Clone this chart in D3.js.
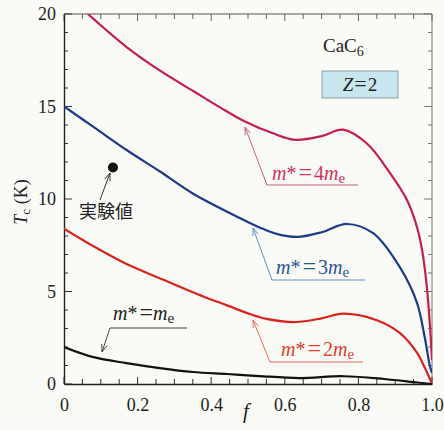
<!DOCTYPE html>
<html><head><meta charset="utf-8">
<script src="https://cdn.jsdelivr.net/npm/d3@7"></script>
<style>
body{margin:0;background:#fafaf7;}
svg{display:block;}
</style></head>
<body><svg id="c" width="444" height="430"></svg>
<script>
// ---- data ----
const xTicks = [0, 0.2, 0.4, 0.6, 0.8, 1.0];
const xTickLabels = ["0", "0.2", "0.4", "0.6", "0.8", "1.0"];
const yTicks = [0, 5, 10, 15, 20];
const yTickLabels = ["0", "5", "10", "15", "20"];

const fM4 = [0.065, 0.171, 0.26, 0.35, 0.424, 0.49, 0.568, 0.628, 0.70, 0.758, 0.823, 0.886, 0.932, 0.959, 0.973, 0.986, 0.995, 1.0];
const tM4 = [20.0, 18.2, 16.95, 15.85, 14.95, 14.2, 13.55, 13.2, 13.4, 13.75, 13.0, 11.4, 9.95, 8.5, 7.25, 5.25, 3.0, 1.3];

const fM3 = [0, 0.08, 0.17, 0.26, 0.35, 0.478, 0.533, 0.58, 0.633, 0.70, 0.769, 0.84, 0.913, 0.959, 0.98, 0.995, 1.0];
const tM3 = [15.0, 13.9, 12.65, 11.5, 10.3, 8.97, 8.45, 8.1, 7.95, 8.2, 8.65, 8.15, 6.3, 4.4, 2.55, 0.9, 0.6];

const fM2 = [0, 0.08, 0.163, 0.272, 0.38, 0.443, 0.505, 0.55, 0.63, 0.70, 0.758, 0.85, 0.913, 0.959, 0.98, 1.0];
const tM2 = [8.4, 7.45, 6.56, 5.62, 4.72, 4.25, 3.78, 3.52, 3.35, 3.55, 3.8, 3.45, 2.75, 1.7, 0.9, 0];

const fM1 = [0, 0.08, 0.17, 0.26, 0.35, 0.443, 0.53, 0.64, 0.76, 0.87, 0.96, 1.0];
const tM1 = [2.0, 1.45, 1.13, 0.86, 0.65, 0.54, 0.43, 0.32, 0.42, 0.27, 0.08, 0];

const expF = [0.133];
const expT = [11.7];

// ---- layout ----
const SERIF = "'Liberation Serif', Tinos, serif";
const svg = d3.select("#c");
const L = 64, R = 432, T = 14, B = 384;
const x = d3.scaleLinear().domain([0, 1]).range([L, R]);
const y = d3.scaleLinear().domain([0, 20]).range([B, T]);

svg.append("rect").attr("width", 444).attr("height", 430).attr("fill", "#fafaf7");

svg.append("line").attr("x1", L).attr("x2", R).attr("y1", T).attr("y2", T).attr("stroke", "#555").attr("stroke-width", 1);
svg.append("line").attr("x1", R).attr("x2", R).attr("y1", T).attr("y2", B).attr("stroke", "#777").attr("stroke-width", 1);

const xMinor = d3.range(0, 1.0001, 0.05);
const yMinor = d3.range(0, 20.0001, 1);
const tickG = svg.append("g").attr("stroke", "#333").attr("stroke-width", 1);
xMinor.forEach(v => {
  const major = Math.abs(v * 5 - Math.round(v * 5)) < 1e-6;
  const len = major ? 7 : 5;
  tickG.append("line").attr("x1", x(v)).attr("x2", x(v)).attr("y1", B).attr("y2", B - len);
  tickG.append("line").attr("x1", x(v)).attr("x2", x(v)).attr("y1", T).attr("y2", T + len).attr("stroke", "#666");
});
yMinor.forEach(v => {
  const major = v % 5 === 0;
  const len = major ? 8 : 4;
  tickG.append("line").attr("x1", L).attr("x2", L + len).attr("y1", y(v)).attr("y2", y(v));
  tickG.append("line").attr("x1", R).attr("x2", R - len).attr("y1", y(v)).attr("y2", y(v)).attr("stroke", "#777");
});

const xAxis = d3.axisBottom(x).tickValues(xTicks).tickFormat((d, i) => xTickLabels[i]).tickSize(0).tickPadding(14);
const gx = svg.append("g").attr("transform", `translate(0,${B})`).call(xAxis);
gx.attr("font-family", SERIF).attr("font-size", 18);
gx.select(".domain").attr("stroke", "#222").attr("stroke-width", 1.4);
gx.selectAll("text").attr("fill", "#222");

const yAxis = d3.axisLeft(y).tickValues(yTicks).tickFormat((d, i) => yTickLabels[i]).tickSize(0).tickPadding(8);
const gy = svg.append("g").attr("transform", `translate(${L},0)`).call(yAxis);
gy.attr("font-family", SERIF).attr("font-size", 18);
gy.select(".domain").attr("stroke", "#222").attr("stroke-width", 1.4);
gy.selectAll("text").attr("fill", "#222");

const yt = svg.append("text").attr("transform", "translate(27,202) rotate(-90)").attr("text-anchor", "middle").attr("font-size", 18).attr("fill", "#222").attr("font-family", SERIF);
yt.append("tspan").attr("font-style", "italic").text("T");
yt.append("tspan").attr("font-size", 13).attr("dy", 3).text("c");
yt.append("tspan").attr("dy", -3).text(" (K)");
svg.append("text").attr("x", 246).attr("y", 418).attr("text-anchor", "middle").attr("font-size", 21).attr("font-style", "italic").attr("fill", "#222").attr("font-family", SERIF).text("f");

svg.append("clipPath").attr("id", "pc").append("rect").attr("x", L).attr("y", T).attr("width", R - L).attr("height", B - T + 2);
const line = d3.line().x(d => x(d[0])).y(d => y(d[1])).curve(d3.curveCatmullRom.alpha(0.5));
const series = [
  {f: fM4, t: tM4, color: "#c41e4a"},
  {f: fM3, t: tM3, color: "#1e3a8a"},
  {f: fM2, t: tM2, color: "#d8231f"},
  {f: fM1, t: tM1, color: "#111"}
];
series.forEach(s => {
  svg.append("path").attr("clip-path", "url(#pc)")
    .attr("d", line(s.f.map((v, i) => [v, s.t[i]])))
    .attr("fill", "none").attr("stroke", s.color).attr("stroke-width", 2.2);
});

svg.selectAll("circle.exp").data(expF).enter().append("circle")
  .attr("cx", d => x(d)).attr("cy", (d, i) => y(expT[i])).attr("r", 5).attr("fill", "#111");

function arrow(points, color) {
  svg.append("path").attr("d", d3.line()(points)).attr("fill", "none").attr("stroke", color).attr("stroke-width", 1);
  const [tx, ty] = points[0], [px, py] = points[1];
  const a = Math.atan2(py - ty, px - tx), h = 8, w = 0.35;
  svg.append("path").attr("d", d3.line()([[tx + h * Math.cos(a - w), ty + h * Math.sin(a - w)], [tx, ty], [tx + h * Math.cos(a + w), ty + h * Math.sin(a + w)]]))
    .attr("fill", "none").attr("stroke", color).attr("stroke-width", 1);
}
function mlabel(xp, yp, coef, color) {
  const t = svg.append("text").attr("x", xp).attr("y", yp).attr("font-size", 20).attr("fill", color).attr("font-family", SERIF);
  t.append("tspan").attr("font-style", "italic").text("m");
  t.append("tspan").text("*");
  t.append("tspan").attr("dx", 2).attr("font-size", 24).text("=");
  t.append("tspan").attr("dx", 2).text(coef);
  t.append("tspan").attr("font-style", "italic").text("m");
  t.append("tspan").attr("font-size", 15).attr("dy", 3).text("e");
}
arrow([[245, 127], [267, 185], [358, 185]], "#c9607a");
mlabel(272, 180, "4", "#d0345a");
arrow([[253, 228], [272, 280], [365, 280]], "#6a8fb5");
mlabel(276, 274, "3", "#2a5890");
arrow([[253, 320], [270, 362], [363, 362]], "#e0705a");
mlabel(281, 356, "2", "#e0402a");
arrow([[102, 352], [110, 328], [187, 328]], "#444");
mlabel(113, 320, "", "#222");
arrow([[110, 173], [100, 200]], "#333");
svg.append("text").attr("x", 79).attr("y", 218).attr("font-size", 18).attr("fill", "#222").attr("font-family", "'Noto Sans CJK JP', sans-serif").text("実験値");

const ct = svg.append("text").attr("x", 323).attr("y", 52).attr("font-size", 19).attr("fill", "#222").attr("font-family", SERIF);
ct.append("tspan").text("CaC");
ct.append("tspan").attr("font-size", 14).attr("dy", 4).text("6");
svg.append("rect").attr("x", 322).attr("y", 71).attr("width", 76).attr("height", 27).attr("fill", "#c9e6ee").attr("stroke", "#8a9ca4").attr("stroke-width", 1);
const zt = svg.append("text").attr("x", 360).attr("y", 91).attr("text-anchor", "middle").attr("font-size", 19).attr("fill", "#222").attr("font-family", SERIF);
zt.append("tspan").attr("font-style", "italic").text("Z");
zt.append("tspan").attr("dx", 1).attr("font-size", 22).text("=");
zt.append("tspan").attr("dx", 1).text("2");
</script></body></html>
